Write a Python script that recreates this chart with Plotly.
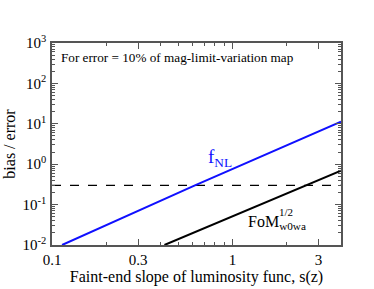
import plotly.graph_objects as go

# Data
fnl_s = [0.1137, 0.62, 4.0]
fnl_ratio = [0.01, 0.30, 11.3]
fom_s = [0.42, 2.58, 4.0]
fom_ratio = [0.01, 0.30, 0.69]
thresh_s = [0.1, 4.0]
thresh_ratio = [0.3, 0.3]

x_tickvals = [0.1, 0.3, 1, 3]
x_ticktext = ["0.1", "0.3", "1", "3"]
x_minor = [0.2, 0.4, 0.5, 0.6, 0.7, 0.8, 0.9, 2, 4]
y_tickvals = [1e-2, 1e-1, 1e0, 1e1, 1e2, 1e3]
y_ticktext = ["10<sup>-2</sup>", "10<sup>-1</sup>", "10<sup>0</sup>",
              "10<sup>1</sup>", "10<sup>2</sup>", "10<sup>3</sup>"]
y_minor = [m * 10.0 ** e for e in range(-2, 3) for m in range(2, 10)]

FONT = "Liberation Serif, Times New Roman, Times, serif"

fig = go.Figure()
fig.add_trace(go.Scatter(x=thresh_s, y=thresh_ratio, mode="lines",
                         line=dict(color="black", width=1.3, dash="dash"),
                         showlegend=False, hoverinfo="skip"))
fig.add_trace(go.Scatter(x=fnl_s, y=fnl_ratio, mode="lines",
                         line=dict(color="#1010ff", width=2),
                         showlegend=False))
fig.add_trace(go.Scatter(x=fom_s, y=fom_ratio, mode="lines",
                         line=dict(color="black", width=2),
                         showlegend=False))

axis_common = dict(showline=True, linecolor="#555", linewidth=1.5,
                   mirror="ticks", ticks="inside", tickcolor="#555",
                   tickwidth=1, showgrid=False, zeroline=False,
                   tickfont=dict(family=FONT, size=15, color="black"))

fig.update_xaxes(type="log", range=[-1, 0.60206],
                 tickvals=x_tickvals, ticktext=x_ticktext, ticklen=6,
                 ticklabelstandoff=0,
                 minor=dict(tickvals=x_minor, ticks="inside", ticklen=3,
                            tickcolor="#555", tickwidth=1),
                 title=dict(text="Faint-end slope of luminosity func, s(z)",
                            font=dict(family=FONT, size=16, color="black"),
                            standoff=0),
                 **axis_common)
fig.update_yaxes(type="log", range=[-2, 3],
                 tickvals=y_tickvals, ticktext=y_ticktext, ticklen=6,
                 ticklabelstandoff=1,
                 minor=dict(tickvals=y_minor, ticks="inside", ticklen=3,
                            tickcolor="#555", tickwidth=1),
                 title=dict(text="bias / error",
                            font=dict(family=FONT, size=16, color="black"),
                            standoff=3),
                 **axis_common)

fig.add_annotation(x=0.024, y=0.93, xref="paper", yref="paper",
                   text="For error = 10% of mag-limit-variation map",
                   showarrow=False, xanchor="left", yanchor="middle",
                   font=dict(family=FONT, size=13.2, color="black"))
fig.add_annotation(x=0.533, y=0.43, xref="paper", yref="paper",
                   text="f<sub>NL</sub>", showarrow=False,
                   xanchor="left", yanchor="middle",
                   font=dict(family=FONT, size=19, color="#1010ff"))
fig.add_annotation(x=0.673, y=0.11, xref="paper", yref="paper",
                   text="FoM<sub>w0wa</sub>", showarrow=False,
                   xanchor="left", yanchor="middle",
                   font=dict(family=FONT, size=16, color="black"))
fig.add_annotation(x=0.78, y=0.165, xref="paper", yref="paper",
                   text="1/2", showarrow=False,
                   xanchor="left", yanchor="middle",
                   font=dict(family=FONT, size=11, color="black"))

fig.update_layout(width=374, height=289,
                  margin=dict(l=52, r=33, t=43, b=44, autoexpand=False),
                  paper_bgcolor="white", plot_bgcolor="white",
                  font=dict(family=FONT, color="black"))

fig.write_html("out.html", config={"displayModeBar": False},
               post_script="document.body.style.margin='0';"
                           "document.body.style.padding='0';")
